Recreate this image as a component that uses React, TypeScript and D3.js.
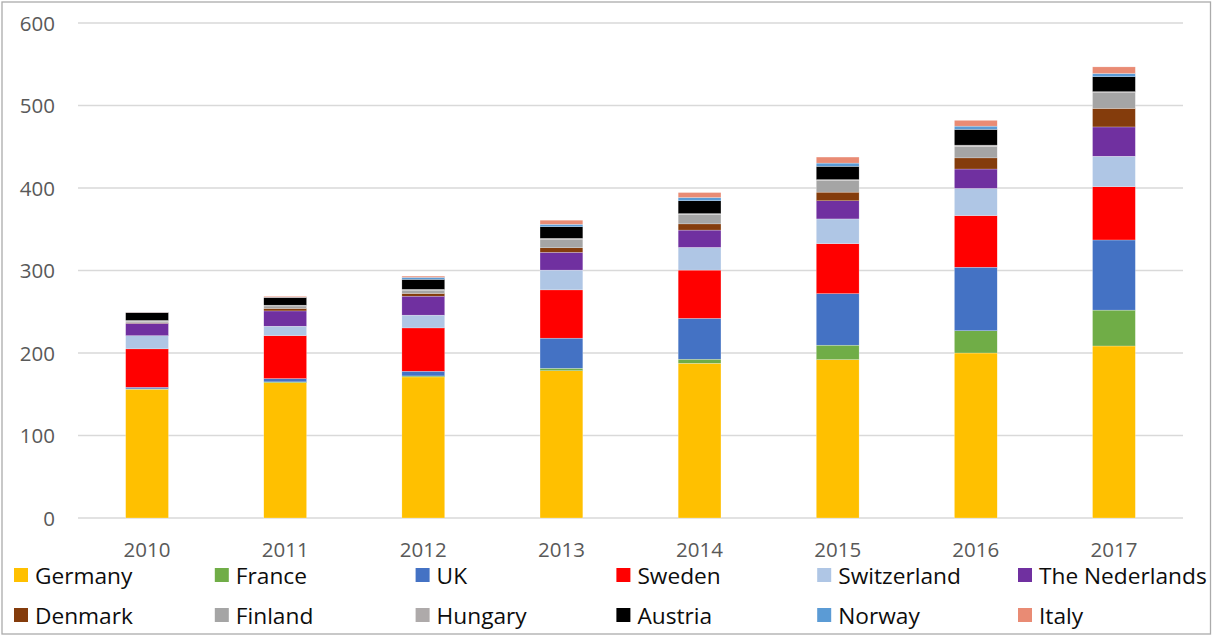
import React from "react";
import * as d3 from "d3";

const years = ["2010", "2011", "2012", "2013", "2014", "2015", "2016", "2017"];
const countries = [
  "Germany", "France", "UK", "Sweden", "Switzerland", "The Nederlands",
  "Denmark", "Finland", "Hungary", "Austria", "Norway", "Italy",
];
const colors = [
  "#FFC000", "#70AD47", "#4472C4", "#FF0000", "#AFC6E5", "#7030A0",
  "#843C0C", "#A5A5A5", "#AEAAAA", "#000000", "#5B9BD5", "#E98B74",
];

const germany = [156, 164, 171, 178.5, 187.5, 192, 200, 208.5];
const france = [0.5, 1, 1.2, 3, 5, 17.5, 27, 43.5];
const uk = [2, 4, 5.7, 36.5, 49.5, 62.5, 77, 85];
const sweden = [46.5, 52, 52.5, 58.5, 58.5, 60.5, 62.5, 64.5];
const switzerland = [16, 11.5, 15.5, 24, 27.5, 30, 33, 37];
const netherlands = [15, 18.5, 23, 21.5, 21, 22, 23.5, 35.5];
const denmark = [0.5, 3, 3.3, 5.5, 7.5, 10.5, 13.5, 22.5];
const finland = [2, 3, 4, 10.5, 11.5, 14, 14, 19];
const hungary = [1, 1, 1, 1, 1, 1.2, 1.5, 1.3];
const austria = [9.5, 9.3, 12, 14, 15.5, 16, 19, 18];
const norway = [0.3, 0.3, 2.5, 3, 4, 4, 4, 4];
const italy = [0.3, 1, 1.5, 5, 6, 7.3, 7, 8];

const yTicks = [0, 100, 200, 300, 400, 500, 600];

const seriesValues = [
  germany, france, uk, sweden, switzerland, netherlands,
  denmark, finland, hungary, austria, norway, italy,
];

const W = 1212;
const H = 635;
const M = { left: 78, right: 1183, top: 23, bottom: 518 };
const FONT = "'Open Sans', 'Noto Sans', sans-serif";

export default function App() {
  const table = years.map((y, i) => {
    const row: Record<string, number | string> = { year: y };
    countries.forEach((c, k) => (row[c] = seriesValues[k][i]));
    return row;
  });
  const stacked = d3.stack<any>().keys(countries)(table as any);

  const x = d3.scaleBand().domain(years).range([M.left, M.right]).paddingInner(0.69).paddingOuter(0.345);
  const y = d3.scaleLinear().domain([0, 600]).range([M.bottom, M.top]);

  const legendX0 = 14;
  const legendDX = 200.8;
  const legendRows = [575, 615];

  return (
    <svg
      width={W}
      height={H}
      style={{ position: "absolute", left: 0, top: 0, background: "#fff" }}
      fontFamily={FONT}
    >
      <rect x={0} y={0} width={W} height={H} fill="#fff" />
      <rect x={2} y={2} width={1208.5} height={632} fill="none" stroke="#ABABAB" strokeWidth={1.3} />
      {yTicks.map((t) => (
        <g key={t}>
          <line x1={M.left} x2={M.right} y1={y(t)} y2={y(t)} stroke="#D9D9D9" strokeWidth={1.5} />
          <text x={55} y={y(t) + 7.5} textAnchor="end" fontSize={20.5} fill="#595959">
            {t}
          </text>
        </g>
      ))}
      {stacked.map((s, k) => (
        <g key={s.key} fill={colors[k]}>
          {s.map((d, i) => (
            <rect
              key={i}
              x={x(years[i])}
              width={x.bandwidth()}
              y={y(d[1])}
              height={Math.max(0, y(d[0]) - y(d[1]))}
              stroke="#ffffff"
              strokeWidth={0.4}
              strokeOpacity={0.6}
            />
          ))}
        </g>
      ))}
      {years.map((yr) => (
        <text
          key={yr}
          x={(x(yr) as number) + x.bandwidth() / 2}
          y={556.5}
          textAnchor="middle"
          fontSize={20.5}
          fill="#595959"
        >
          {yr}
        </text>
      ))}
      {countries.map((c, k) => {
        const col = k % 6;
        const row = Math.floor(k / 6);
        const lx = legendX0 + col * legendDX;
        const cy = legendRows[row];
        return (
          <g key={c}>
            <rect x={lx} y={cy - 7} width={14} height={14} fill={colors[k]} />
            <text x={lx + 21} y={cy + 9} fontSize={22.7} fill="#0D0D0D">
              {c}
            </text>
          </g>
        );
      })}
    </svg>
  );
}
